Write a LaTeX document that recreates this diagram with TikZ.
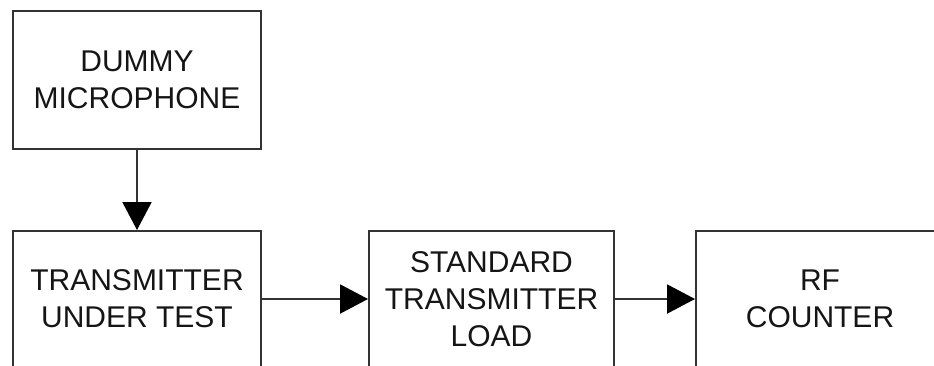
\documentclass[tikz,border=0pt]{standalone}
\usepackage{fontspec}
\setmainfont{Liberation Sans}
\usetikzlibrary{arrows.meta,positioning}
\definecolor{ink}{HTML}{151515}
\definecolor{linegray}{HTML}{333333}
\tikzset{
  box/.style={draw=linegray, line width=2pt, fill=white, align=center, inner sep=4pt, minimum width=248pt, text=ink, font=\fontsize{30}{37}\selectfont},
  arrow/.style={-{Triangle[length=28pt,width=29pt,black]}, line width=2pt, draw=linegray}
}
\begin{document}
\begin{tikzpicture}[node distance=80pt and 80pt]
\useasboundingbox (0,0) rectangle (934pt,-365pt);
\clip (0,0) rectangle (934pt,-365pt);
\node[box, minimum height=138pt] (mic) at (137pt,-80pt) {DUMMY\\MICROPHONE};
\node[box, below=80pt of mic, minimum height=136pt] (tut) {TRANSMITTER\\UNDER TEST};
\node[box, right=106pt of tut, minimum height=136pt, minimum width=245pt] (load) {STANDARD\\TRANSMITTER\\LOAD};
\node[box, right=80pt of load, minimum height=136pt] (rfc) {RF\\COUNTER};
\draw[arrow] (mic)--(tut); \draw[arrow] (tut)--(load); \draw[arrow] (load)--(rfc);
\end{tikzpicture}
\end{document}
